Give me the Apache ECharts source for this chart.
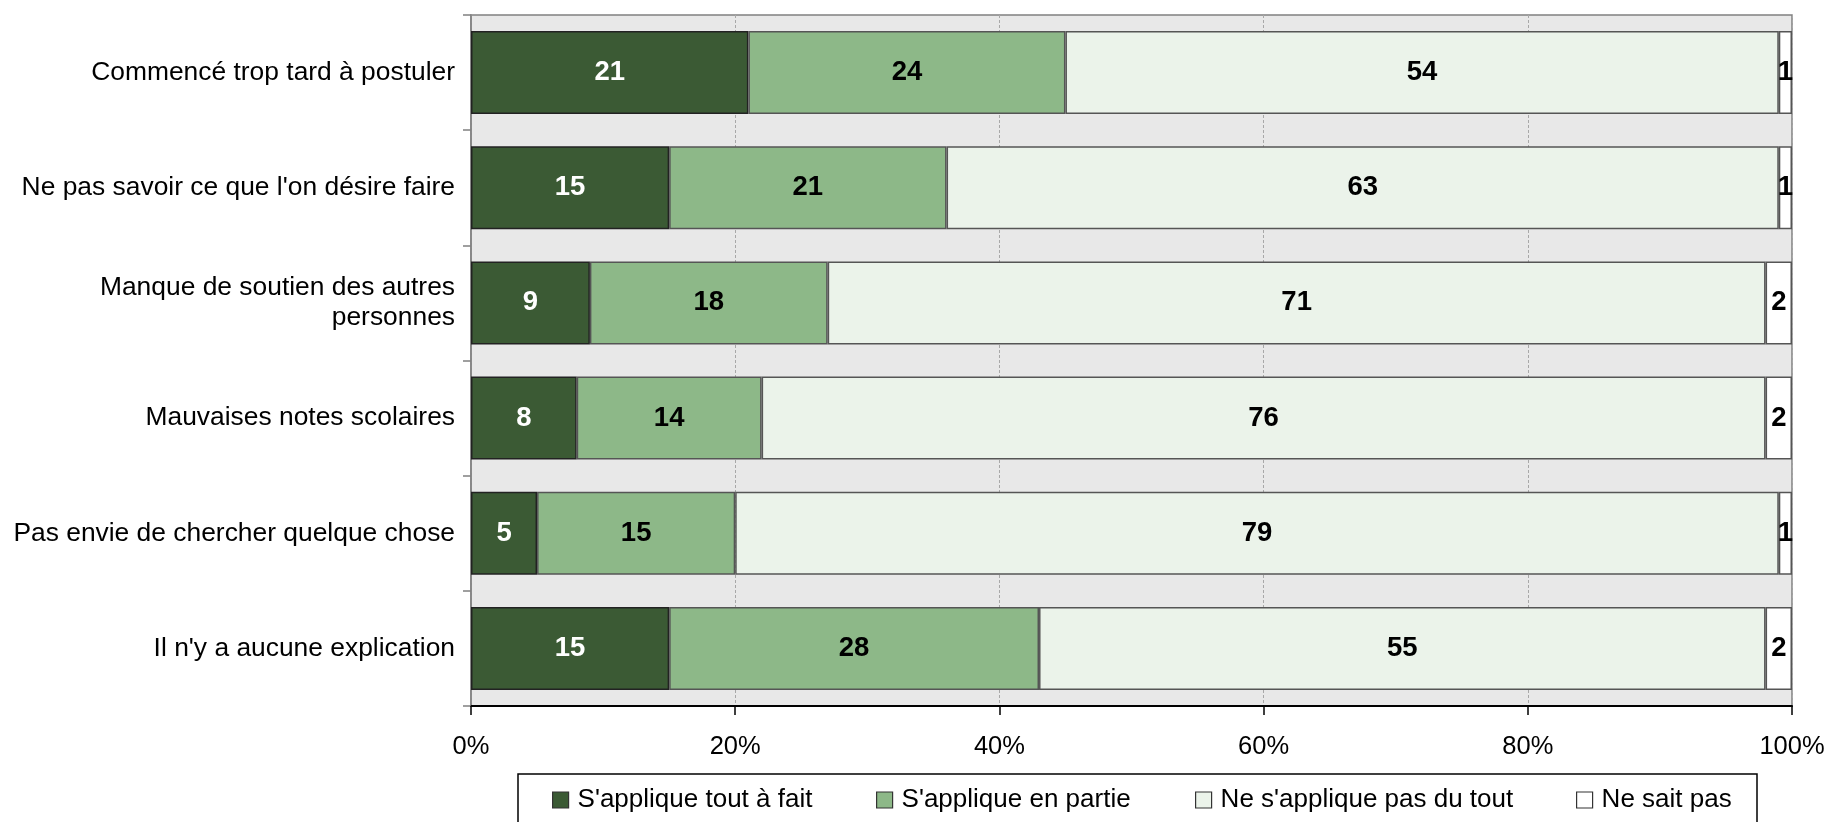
<!DOCTYPE html>
<html>
<head>
<meta charset="utf-8">
<script src="https://cdn.jsdelivr.net/npm/echarts@6/dist/echarts.min.js"></script>
<style>
html,body{margin:0;padding:0;background:#fff;}
#chart{width:1829px;height:822px;}
</style>
</head>
<body>
<div id="chart"></div>
<script>
var categories = [
  "Commencé trop tard à postuler",
  "Ne pas savoir ce que l'on désire faire",
  "Manque de soutien des autres\npersonnes",
  "Mauvaises notes scolaires",
  "Pas envie de chercher quelque chose",
  "Il n'y a aucune explication"
];
var seriesNames = ["S'applique tout à fait", "S'applique en partie", "Ne s'applique pas du tout", "Ne sait pas"];
var toutAFait   = [21, 15, 9, 8, 5, 15];
var enPartie    = [24, 21, 18, 14, 15, 28];
var pasDuTout   = [54, 63, 71, 76, 79, 55];
var neSaitPas   = [1, 1, 2, 2, 1, 2];
var xTicks = [0, 20, 40, 60, 80, 100];

var colors = ['#3b5a34', '#8db888', '#ebf3ea', '#ffffff'];
var labelColors = ['#ffffff', '#000000', '#000000', '#000000'];
var values = [toutAFait, enPartie, pasDuTout, neSaitPas];
var borderColors = ['#222222', '#555555', '#555555', '#555555'];

var FONT = 'Liberation Sans, Arial, sans-serif';

var series = values.map(function (v, i) {
  return {
    name: seriesNames[i],
    type: 'bar',
    stack: 'total',
    barCategoryGap: '28%',
    data: v,
    itemStyle: { color: colors[i], borderColor: borderColors[i], borderWidth: 1.5 },
    label: {
      show: true,
      position: 'inside',
      color: labelColors[i],
      fontFamily: FONT,
      fontWeight: 'bold',
      fontSize: 27.5
    },
    emphasis: { disabled: true },
    animation: false
  };
});

var legendLefts = [552, 876, 1195, 1576];
var legends = seriesNames.map(function (n, i) {
  return {
    data: [n],
    left: legendLefts[i],
    top: 787,
    padding: 0,
    itemWidth: 16,
    itemHeight: 16,
    itemGap: 0,
    icon: 'rect',
    selectedMode: false,
    itemStyle: { borderColor: '#333333', borderWidth: 1.2 },
    textStyle: { fontFamily: FONT, fontSize: 26, color: '#000', padding: [0, 0, 0, 4] }
  };
});

var chart = echarts.init(document.getElementById('chart'), null, { renderer: 'canvas' });
chart.setOption({
  backgroundColor: '#ffffff',
  animation: false,
  legend: legends,
  grid: {
    left: 471, right: 37, top: 15, bottom: 116,
    show: true,
    backgroundColor: '#e8e8e8',
    borderColor: '#808080',
    borderWidth: 1.5
  },
  xAxis: {
    type: 'value',
    min: 0, max: 100, interval: 20,
    axisLine: { show: true, lineStyle: { color: '#000', width: 2 } },
    axisTick: { show: true, length: 9, lineStyle: { color: '#000', width: 1.5 } },
    splitLine: { show: true, lineStyle: { color: '#a8a8a8', width: 1, type: [3, 2] } },
    axisLabel: {
      formatter: function (v) { return xTicks.indexOf(v) >= 0 ? v + '%' : ''; },
      fontFamily: FONT, fontSize: 25.5, color: '#000', margin: 28
    }
  },
  yAxis: {
    type: 'category',
    inverse: true,
    data: categories,
    axisLine: { show: true, lineStyle: { color: '#808080', width: 1.5 } },
    axisTick: { show: true, length: 8, lineStyle: { color: '#808080', width: 1.5 } },
    axisLabel: {
      fontFamily: FONT, fontSize: 26.4, color: '#000', margin: 16, lineHeight: 30, align: 'right'
    }
  },
  graphic: [{
    type: 'rect',
    shape: { x: 518, y: 774, width: 1239, height: 60 },
    style: { fill: 'none', stroke: '#000', lineWidth: 1.5 },
    silent: true
  }],
  series: series
});
</script>
</body>
</html>
